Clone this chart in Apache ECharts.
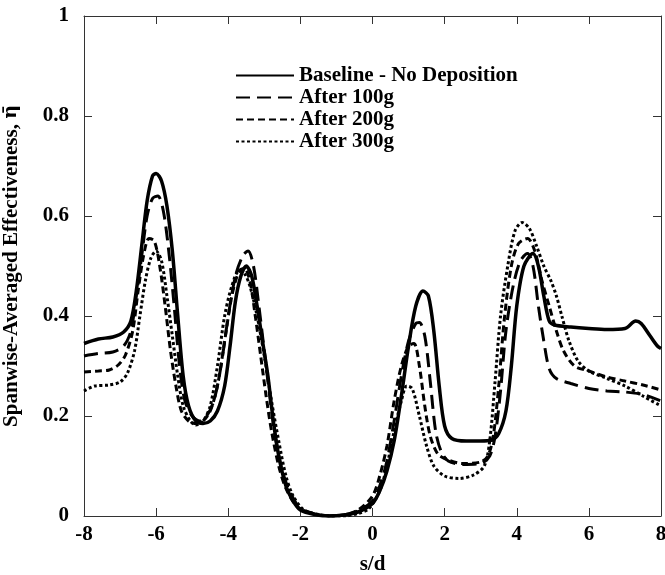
<!DOCTYPE html>
<html><head><meta charset="utf-8">
<script src="https://cdn.jsdelivr.net/npm/echarts@6/dist/echarts.min.js"></script>
<style>html,body{margin:0;padding:0;background:#fff}#c{width:665px;height:575px}</style>
</head><body><div id="c"></div>
<script>
const seriesNames = ['Baseline - No Deposition','After 100g','After 200g','After 300g'];
const xTicks = [-8,-6,-4,-2,0,2,4,6,8];
const yTicks = [0,0.2,0.4,0.6,0.8,1];

const baselineX = [-8,-7.6,-7.2,-6.9,-6.7,-6.55,-6.4,-6.25,-6.1,-6.0,-5.85,-5.7,-5.55,-5.4,-5.25,-5.1,-4.9,-4.7,-4.5,-4.3,-4.1,-3.95,-3.8,-3.65,-3.5,-3.35,-3.2,-3.05,-2.9,-2.75,-2.6,-2.4,-2.2,-2.0,-1.6,-1.2,-0.8,-0.4,0,0.2,0.4,0.6,0.8,1.0,1.2,1.4,1.55,1.7,1.85,2.0,2.2,2.6,3.0,3.3,3.5,3.7,3.85,4.0,4.2,4.45,4.6,4.75,4.9,5.05,5.5,6.0,6.5,7.0,7.3,7.45,7.7,7.9,8.0];
const baselineY = [0.345,0.354,0.358,0.368,0.39,0.45,0.54,0.63,0.68,0.685,0.67,0.62,0.53,0.40,0.28,0.22,0.19,0.185,0.19,0.21,0.26,0.34,0.43,0.48,0.50,0.48,0.42,0.35,0.28,0.19,0.12,0.06,0.03,0.012,0.003,0.0,0.002,0.008,0.025,0.05,0.09,0.15,0.24,0.34,0.42,0.45,0.44,0.37,0.26,0.18,0.155,0.15,0.15,0.152,0.165,0.21,0.30,0.42,0.50,0.525,0.50,0.44,0.39,0.382,0.378,0.375,0.373,0.375,0.39,0.385,0.36,0.34,0.335];

const g100X = [-8,-7.6,-7.2,-6.9,-6.7,-6.55,-6.4,-6.25,-6.1,-5.95,-5.8,-5.65,-5.5,-5.35,-5.2,-5.0,-4.8,-4.6,-4.4,-4.2,-4.0,-3.8,-3.6,-3.45,-3.3,-3.15,-3.0,-2.85,-2.7,-2.5,-2.3,-2.0,-1.6,-1.2,-0.8,-0.4,0,0.2,0.4,0.6,0.8,1.0,1.2,1.3,1.45,1.6,1.75,1.9,2.1,2.5,3.0,3.25,3.4,3.55,3.7,3.9,4.1,4.3,4.45,4.6,4.75,4.9,5.1,5.5,6.0,6.5,7.0,7.5,8.0];
const g100Y = [0.32,0.325,0.328,0.34,0.37,0.44,0.52,0.60,0.635,0.64,0.61,0.53,0.42,0.30,0.23,0.20,0.19,0.20,0.23,0.30,0.40,0.48,0.52,0.53,0.50,0.42,0.33,0.24,0.16,0.09,0.05,0.015,0.004,0.0,0.002,0.01,0.03,0.06,0.11,0.19,0.28,0.35,0.385,0.387,0.36,0.27,0.17,0.13,0.11,0.103,0.105,0.12,0.16,0.25,0.37,0.46,0.51,0.525,0.50,0.42,0.35,0.295,0.275,0.265,0.255,0.25,0.248,0.243,0.23];

const g200X = [-8,-7.6,-7.3,-7.05,-6.85,-6.65,-6.5,-6.35,-6.2,-6.05,-5.9,-5.75,-5.6,-5.45,-5.3,-5.1,-4.9,-4.7,-4.5,-4.3,-4.1,-3.9,-3.7,-3.55,-3.4,-3.25,-3.1,-2.95,-2.8,-2.6,-2.4,-2.1,-1.6,-1.2,-0.8,-0.4,0,0.2,0.4,0.6,0.8,1.0,1.15,1.3,1.45,1.6,1.8,2.0,2.5,3.0,3.2,3.35,3.5,3.65,3.85,4.05,4.3,4.5,4.7,4.9,5.1,5.3,5.6,6.0,6.5,7.0,7.5,8.0];
const g200Y = [0.288,0.29,0.292,0.302,0.322,0.37,0.45,0.52,0.555,0.55,0.50,0.42,0.33,0.26,0.21,0.19,0.185,0.19,0.21,0.26,0.35,0.44,0.49,0.495,0.47,0.40,0.32,0.24,0.17,0.10,0.055,0.02,0.004,0.0,0.002,0.012,0.04,0.08,0.14,0.23,0.30,0.34,0.345,0.30,0.22,0.16,0.125,0.115,0.105,0.108,0.12,0.16,0.26,0.39,0.50,0.545,0.555,0.53,0.47,0.42,0.37,0.33,0.30,0.29,0.278,0.27,0.262,0.252];

const g300X = [-8,-7.7,-7.3,-7.0,-6.8,-6.6,-6.45,-6.3,-6.15,-6.0,-5.85,-5.7,-5.55,-5.4,-5.25,-5.05,-4.9,-4.7,-4.5,-4.3,-4.1,-3.9,-3.7,-3.55,-3.4,-3.2,-3.0,-2.8,-2.6,-2.4,-2.2,-1.9,-1.5,-1.2,-0.8,-0.4,-0.1,0.2,0.4,0.6,0.8,0.95,1.1,1.3,1.5,1.7,2.0,2.4,2.8,3.1,3.25,3.4,3.55,3.75,3.95,4.15,4.35,4.55,4.75,4.95,5.1,5.25,5.45,5.7,6.0,6.5,7.0,7.5,8.0];
const g300Y = [0.25,0.26,0.262,0.268,0.285,0.33,0.40,0.47,0.515,0.53,0.51,0.44,0.36,0.28,0.22,0.19,0.182,0.19,0.22,0.30,0.40,0.46,0.49,0.485,0.46,0.40,0.32,0.23,0.15,0.08,0.04,0.012,0.003,0.0,0.0,0.005,0.015,0.05,0.10,0.17,0.23,0.26,0.255,0.20,0.14,0.10,0.08,0.075,0.082,0.10,0.15,0.27,0.40,0.50,0.57,0.587,0.575,0.54,0.50,0.47,0.44,0.40,0.35,0.31,0.29,0.275,0.26,0.24,0.22];

const zip = (xs, ys) => xs.map((x, i) => [x, ys[i]]);
const font = 'Liberation Serif, Times New Roman, serif';
const chart = echarts.init(document.getElementById('c'), null, {renderer: 'canvas'});
const lineBase = {type: 'line', showSymbol: false, symbol: 'none', smooth: 0.3, xAxisIndex: 0, yAxisIndex: 0, animation: false};
const axLine = {show: true, onZero: false, lineStyle: {color: '#333', width: 1}};
const axTick = {show: true, inside: true, length: 8, lineStyle: {color: '#333'}};
chart.setOption({
  animation: false,
  backgroundColor: '#fff',
  grid: {left: 84, right: 4, top: 16, bottom: 59, containLabel: false, outerBoundsMode: 'none'},
  legend: {
    orient: 'vertical', left: 230, top: 60, itemGap: 1, itemWidth: 58, itemHeight: 14,
    itemStyle: {opacity: 0},
    textStyle: {fontFamily: font, fontWeight: 'bold', fontSize: 21, color: '#000'},
    data: seriesNames
  },
  xAxis: [{
    type: 'value', min: -8, max: 8, interval: 2, position: 'bottom',
    name: 's/d', nameLocation: 'middle', nameGap: 38,
    nameTextStyle: {fontFamily: font, fontWeight: 'bold', fontSize: 21, color: '#000'},
    axisLine: axLine, axisTick: axTick,
    axisLabel: {fontFamily: font, fontWeight: 'bold', fontSize: 21, color: '#000', margin: 8,
      formatter: v => xTicks.includes(v) ? String(v) : ''},
    splitLine: {show: false}
  }, {
    type: 'value', min: -8, max: 8, interval: 2, position: 'top',
    axisLine: axLine, axisTick: axTick,
    axisLabel: {show: false}, splitLine: {show: false}
  }],
  yAxis: [{
    type: 'value', min: 0, max: 1, interval: 0.2, position: 'left',
    name: '{a|Spanwise-Averaged Effectiveness, }{b|η\u0304}', nameLocation: 'middle', nameGap: 62,
    nameTextStyle: {fontFamily: font, fontWeight: 'bold', fontSize: 21, color: '#000',
      rich: {
        a: {fontFamily: font, fontWeight: 'bold', fontSize: 21, color: '#000'},
        b: {fontFamily: 'DejaVu Serif', fontWeight: 'bold', fontSize: 19, color: '#000'}
      }},
    axisLine: axLine, axisTick: axTick,
    axisLabel: {fontFamily: font, fontWeight: 'bold', fontSize: 21, color: '#000', margin: 15,
      formatter: v => yTicks.some(t => Math.abs(t - v) < 1e-9) ? String(+v.toFixed(1)) : ''},
    splitLine: {show: false}
  }, {
    type: 'value', min: 0, max: 1, interval: 0.2, position: 'right',
    axisLine: axLine, axisTick: axTick,
    axisLabel: {show: false}, splitLine: {show: false}
  }],
  series: [
    Object.assign({}, lineBase, {name: seriesNames[0], data: zip(baselineX, baselineY),
      lineStyle: {color: '#000', width: 3.5, type: 'solid'}, itemStyle: {color: '#000'}, z: 5}),
    Object.assign({}, lineBase, {name: seriesNames[1], data: zip(g100X, g100Y),
      lineStyle: {color: '#000', width: 3, type: [14, 7]}, itemStyle: {color: '#000'}}),
    Object.assign({}, lineBase, {name: seriesNames[2], data: zip(g200X, g200Y),
      lineStyle: {color: '#000', width: 3, type: [7, 4]}, itemStyle: {color: '#000'}}),
    Object.assign({}, lineBase, {name: seriesNames[3], data: zip(g300X, g300Y),
      lineStyle: {color: '#000', width: 3, type: [3, 2.5]}, itemStyle: {color: '#000'}})
  ]
});
</script></body></html>
